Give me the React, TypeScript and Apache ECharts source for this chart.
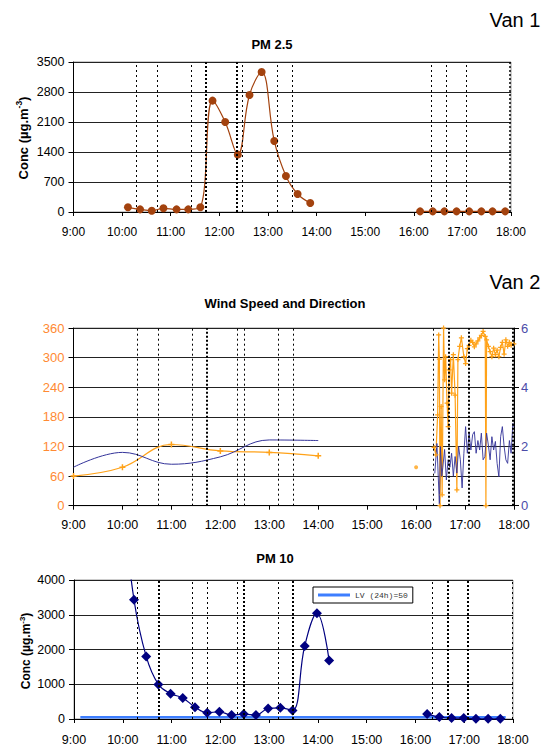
import React, { useEffect, useRef } from 'react';
import * as echarts from 'echarts';

// ---------- data ----------
const eventTimes = [10.3, 10.73, 11.43, 11.73, 12.35, 12.48, 13.19, 13.49, 16.35, 16.67, 17.08, 17.98];
const eventWidthsTop = [1, 1, 1, 2, 2, 1, 1, 1, 1, 1, 1, 1.5];
const eventWidthsMid = [1, 1, 1, 2, 1, 1, 1, 1, 1, 2, 2, 2];
const eventWidthsBot = [1, 2, 1, 1, 1, 2, 1, 2, 1, 2, 2, 1];

const pm25TimesAM = [10.12, 10.37, 10.61, 10.85, 11.12, 11.36, 11.61, 11.86, 12.12, 12.38, 12.62, 12.87, 13.13, 13.37, 13.61, 13.87];
const pm25AM = [109, 62, 31, 86, 62, 62, 109, 2598, 2100, 1338, 2730, 3267, 1657, 840, 420, 210];
const pm25TimesPM = [16.13, 16.39, 16.63, 16.88, 17.14, 17.39, 17.62, 17.88];
const pm25PM = [15, 15, 15, 15, 15, 15, 15, 15];

const dirTimesHourly = [9, 10, 11, 12, 13, 14];
const dirHourly = [60, 78, 124, 111, 108, 101];
const dirTimeSingle = [16.0];
const dirSingle = [78];
const dirTimesNoisy = [16.368, 16.404, 16.44, 16.461, 16.475, 16.489, 16.511, 16.532, 16.561, 16.582, 16.604, 16.632, 16.654, 16.675, 16.704, 16.725, 16.761, 16.797, 16.833, 16.854, 16.89, 16.925, 16.976, 17.011, 17.047, 17.083, 17.119, 17.155, 17.19, 17.226, 17.262, 17.298, 17.333, 17.369, 17.412, 17.426, 17.44, 17.476, 17.512, 17.548, 17.584, 17.62, 17.655, 17.691, 17.727, 17.762, 17.798, 17.834, 17.87, 17.906, 17.941, 17.998];
const dirNoisy = [118, 103, 184, 346, 297, 0, 201, 22, 360, 255, 302, 208, 160, 275, 296, 228, 306, 224, 32, 296, 323, 340, 302, 288, 318, 325, 335, 331, 322, 328, 334, 340, 345, 353, 343, 0, 336, 323, 312, 302, 319, 306, 315, 302, 321, 331, 307, 336, 323, 331, 325, 328];

const spdTimesHourly = [9, 10, 11, 12, 13, 14];
const spdHourly = [1.3, 1.8, 1.4, 1.65, 2.22, 2.2];
const spdTimesNoisy = [16.382, 16.425, 16.475, 16.496, 16.525, 16.546, 16.582, 16.618, 16.654, 16.69, 16.725, 16.761, 16.797, 16.833, 16.868, 16.904, 16.94, 16.976, 17.011, 17.047, 17.083, 17.119, 17.155, 17.19, 17.226, 17.262, 17.298, 17.333, 17.369, 17.405, 17.44, 17.476, 17.512, 17.548, 17.584, 17.62, 17.655, 17.691, 17.727, 17.762, 17.798, 17.834, 17.87, 17.906, 17.941, 17.977, 17.998];
const spdNoisy = [1.09, 2.1, 0.05, 2.0, 1.0, 1.3, 1.9, 0.87, 1.55, 1.3, 1.77, 1.0, 1.66, 1.1, 2.0, 1.55, 0.6, 1.77, 2.67, 1.77, 2.45, 1.88, 2.4, 2.5, 1.77, 2.2, 1.88, 2.45, 1.55, 1.66, 2.45, 2.05, 1.55, 2.33, 1.88, 2.17, 1.43, 0.98, 2.33, 2.67, 2.0, 1.55, 1.43, 2.2, 1.77, 2.78, 2.67];

const pm10TimesAM = [9.98, 10.23, 10.48, 10.73, 10.98, 11.23, 11.48, 11.73, 11.98, 12.23, 12.48, 12.73, 12.98, 13.23, 13.48, 13.73, 13.98, 14.23];
const pm10AM = [6500, 3431, 1801, 995, 730, 607, 341, 180, 209, 114, 142, 114, 303, 322, 246, 2104, 3043, 1687];
const pm10TimesPM = [16.24, 16.49, 16.74, 16.99, 17.24, 17.49, 17.74];
const pm10PM = [142, 57, 28, 28, 10, 5, 5];

const lvTimes = [9.13, 17.85];
const lvValues = [50, 50];
const lvName = 'LV (24h)=50';

const xTickLabels = ['9:00', '10:00', '11:00', '12:00', '13:00', '14:00', '15:00', '16:00', '17:00', '18:00'];

// ---------- helpers ----------
const pair = (ts: number[], vs: number[]) => ts.map((t, i) => [t, vs[i]]);
const FONT = 'Liberation Sans';
const PLUS = 'path://M-1,-4L1,-4L1,-1L4,-1L4,1L1,1L1,4L-1,4L-1,1L-4,1L-4,-1L-1,-1Z';

const eventMarks = (widths: number[]) => ({
  silent: true,
  symbol: ['none', 'none'],
  label: { show: false },
  animation: false,
  data: eventTimes.map((t, i) => ({
    xAxis: t,
    lineStyle: { color: '#000', width: widths[i], type: widths[i] > 1 ? [2, 2] : [2, 3] },
  })),
});

const xAxis = (gridIndex: number, fontSize: number, margin: number) => ({
  type: 'value',
  gridIndex,
  min: 9,
  max: 18,
  interval: 1,
  axisLine: { show: true, onZero: false, lineStyle: { color: '#000', width: 1 } },
  axisTick: { show: true, length: 4, lineStyle: { color: '#000' } },
  axisLabel: {
    formatter: (v: number) => xTickLabels[Math.round(v) - 9],
    fontSize,
    color: '#000',
    fontFamily: FONT,
    margin,
  },
  splitLine: { show: false },
});

const yAxis = (gridIndex: number, max: number, interval: number, color: string, fontSize: number, position = 'left', split = true) => ({
  type: 'value',
  gridIndex,
  min: 0,
  max,
  interval,
  position,
  axisLine: { show: true, lineStyle: { color: '#000', width: 1 } },
  axisTick: { show: true, length: 5, lineStyle: { color: '#000' } },
  axisLabel: {
    fontSize,
    color,
    fontFamily: FONT,
    margin: position === 'left' ? 9 : 7,
    formatter: (v: number) => String(v),
  },
  splitLine: { show: split, lineStyle: { color: '#222', width: 1 } },
});

const yName = (x: number, y: number, size: number) => ({
  type: 'text',
  x,
  y,
  rotation: Math.PI / 2,
  style: {
    text: '{a|Conc (µg.m}{b|-3}{a|)}',
    textAlign: 'center',
    textVerticalAlign: 'middle',
    rich: {
      a: { fontSize: size, fontWeight: 'bold', fontFamily: FONT, fill: '#000', lineHeight: size + 4 },
      b: { fontSize: size * 0.65, fontWeight: 'bold', fontFamily: FONT, fill: '#000', lineHeight: size + 4, verticalAlign: 'top' },
    },
  },
});

const textEl = (text: string, x: number, y: number, font: string) => ({
  type: 'text',
  x,
  y,
  style: { text, font, fill: '#000', textAlign: 'center', textVerticalAlign: 'middle' },
});

export default function App() {
  const ref = useRef<HTMLDivElement>(null);

  useEffect(() => {
    if (!ref.current) return;
    const chart = echarts.init(ref.current, undefined, { renderer: 'svg' });
    const brown = '#a3420e';
    const orange = '#ffa219';
    const navy = '#000080';
    const slate = '#333399';

    chart.setOption({
      animation: false,
      backgroundColor: '#fff',
      textStyle: { fontFamily: FONT },
      grid: [
        { left: 73.5, top: 62, width: 437.5, height: 150, show: true, borderColor: '#999', borderWidth: 1 },
        { left: 73.5, top: 328, width: 440.5, height: 177.7, show: true, borderColor: '#999', borderWidth: 1 },
        { left: 74, top: 580, width: 439, height: 140.7, show: true, borderColor: '#999', borderWidth: 1 },
      ],
      xAxis: [xAxis(0, 12, 14), xAxis(1, 12.5, 13), xAxis(2, 12.5, 14)],
      yAxis: [
        yAxis(0, 3500, 700, '#000', 12.5),
        yAxis(1, 360, 60, '#ff8a33', 13),
        yAxis(1, 6, 2, '#4b4ba8', 13, 'right', false),
        yAxis(2, 4000, 1000, '#000', 12.5),
      ],
      legend: {
        data: [lvName],
        left: 313,
        top: 587,
        padding: [3, 5],
        itemWidth: 32,
        itemHeight: 3,
        icon: 'rect',
        borderColor: '#000',
        borderWidth: 1,
        borderRadius: 0,
        backgroundColor: '#fff',
        selectedMode: false,
        textStyle: { fontFamily: 'Liberation Mono', fontSize: 8, color: '#333', lineHeight: 10 },
      },
      graphic: [
        textEl('Van 1', 515, 20, '20px Liberation Sans'),
        textEl('PM 2.5', 272, 44, 'bold 13px Liberation Sans'),
        yName(23, 138, 13),
        textEl('Van 2', 515, 282, '20px Liberation Sans'),
        textEl('Wind Speed and Direction', 285, 303, 'bold 13px Liberation Sans'),
        textEl('PM 10', 275, 558, 'bold 13px Liberation Sans'),
        yName(26, 651, 12),
      ],
      series: [
        {
          type: 'line', xAxisIndex: 0, yAxisIndex: 0, data: pair(pm25TimesAM, pm25AM),
          smooth: 0.4, symbol: 'circle', symbolSize: 8, color: brown,
          lineStyle: { color: brown, width: 1.2 }, itemStyle: { color: brown },
          markLine: eventMarks(eventWidthsTop),
        },
        {
          type: 'line', xAxisIndex: 0, yAxisIndex: 0, data: pair(pm25TimesPM, pm25PM),
          smooth: 0.4, symbol: 'circle', symbolSize: 8, color: brown,
          lineStyle: { color: brown, width: 1.2 }, itemStyle: { color: brown },
        },
        {
          type: 'line', xAxisIndex: 1, yAxisIndex: 1, data: pair(dirTimesHourly, dirHourly),
          smooth: 0.4, symbol: PLUS, symbolSize: 6, color: orange,
          lineStyle: { color: orange, width: 1.2 }, itemStyle: { color: orange },
          markLine: eventMarks(eventWidthsMid),
        },
        {
          type: 'scatter', xAxisIndex: 1, yAxisIndex: 1, data: pair(dirTimeSingle, dirSingle),
          symbol: 'circle', symbolSize: 4, itemStyle: { color: orange },
        },
        {
          type: 'line', xAxisIndex: 1, yAxisIndex: 1, data: pair(dirTimesNoisy, dirNoisy),
          symbol: PLUS, symbolSize: 5, color: orange, showAllSymbol: true,
          lineStyle: { color: orange, width: 1.2 }, itemStyle: { color: orange },
        },
        {
          type: 'line', xAxisIndex: 1, yAxisIndex: 2, data: pair(spdTimesHourly, spdHourly),
          smooth: 0.4, symbol: 'none', color: slate,
          lineStyle: { color: slate, width: 1 },
        },
        {
          type: 'line', xAxisIndex: 1, yAxisIndex: 2, data: pair(spdTimesNoisy, spdNoisy),
          symbol: 'none', color: slate,
          lineStyle: { color: slate, width: 1, opacity: 0.9 },
        },
        {
          name: lvName, type: 'line', xAxisIndex: 2, yAxisIndex: 3, data: pair(lvTimes, lvValues),
          symbol: 'none', color: '#3d7eff',
          lineStyle: { color: '#3d7eff', width: 2.5 }, itemStyle: { color: '#3d7eff' },
        },
        {
          type: 'line', xAxisIndex: 2, yAxisIndex: 3, data: pair(pm10TimesAM, pm10AM),
          smooth: 0.4, symbol: 'diamond', symbolSize: 10, color: navy, clip: true,
          lineStyle: { color: navy, width: 1.2 }, itemStyle: { color: navy },
          markLine: eventMarks(eventWidthsBot),
        },
        {
          type: 'line', xAxisIndex: 2, yAxisIndex: 3, data: pair(pm10TimesPM, pm10PM),
          smooth: 0.4, symbol: 'diamond', symbolSize: 10, color: navy,
          lineStyle: { color: navy, width: 1.2 }, itemStyle: { color: navy },
        },
      ],
    });
    return () => chart.dispose();
  }, []);

  return <div ref={ref} style={{ position: 'absolute', left: 0, top: 0, width: 549, height: 746 }} />;
}
